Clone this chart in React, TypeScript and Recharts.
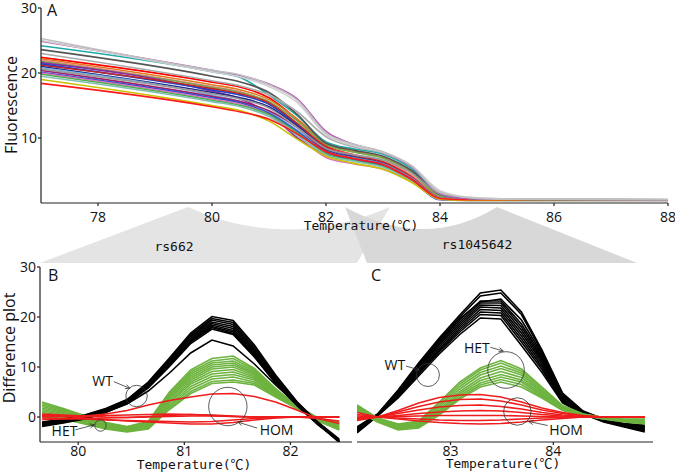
import React from 'react';
import { LineChart, Line, XAxis, YAxis, ReferenceDot } from 'recharts';

// ---- panel A: melting curves ----
const A_TEMPS = [77, 80, 80.5, 81, 81.5, 82, 82.5, 83, 83.5, 84, 84.5, 85, 86, 88];
const A_CURVES = [
  [22.4, 18.6, 17.8, 16.2, 12.8, 8.8, 7.4, 6.4, 4.2, 0.9, 0.6, 0.5, 0.5, 0.5],
  [22.2, 18.2, 17.4, 15.9, 12.9, 9.2, 7.9, 7.0, 4.8, 1.1, 0.6, 0.5, 0.5, 0.5],
  [22.0, 17.9, 17.1, 15.4, 12.2, 8.6, 7.4, 6.5, 4.3, 0.9, 0.6, 0.5, 0.5, 0.5],
  [21.8, 17.8, 17.0, 15.6, 12.6, 9.0, 7.8, 6.9, 4.7, 1.0, 0.6, 0.5, 0.5, 0.5],
  [21.6, 17.2, 16.0, 13.8, 10.0, 7.4, 6.6, 5.8, 3.8, 0.8, 0.5, 0.5, 0.5, 0.5],
  [21.4, 17.4, 16.6, 15.2, 12.0, 8.4, 7.2, 6.2, 3.8, 0.6, 0.5, 0.5, 0.5, 0.5],
  [21.2, 17.6, 16.8, 15.4, 12.2, 8.6, 7.3, 6.3, 4.0, 0.8, 0.5, 0.5, 0.5, 0.5],
  [21.0, 17.0, 16.2, 14.8, 11.8, 8.2, 7.0, 6.0, 3.6, 0.6, 0.5, 0.5, 0.5, 0.5],
  [20.8, 16.6, 15.6, 14.0, 11.2, 8.0, 6.9, 6.0, 3.8, 0.8, 0.5, 0.5, 0.5, 0.5],
  [20.4, 16.4, 15.6, 14.2, 11.6, 8.0, 6.8, 5.9, 3.7, 0.7, 0.5, 0.5, 0.5, 0.5],
  [20.1, 16.2, 15.4, 13.8, 11.0, 7.8, 6.6, 5.7, 3.4, 0.5, 0.4, 0.4, 0.4, 0.4],
  [20.0, 16.0, 15.2, 13.6, 10.4, 7.0, 6.0, 5.2, 3.3, 0.6, 0.5, 0.5, 0.6, 0.5],
  [19.8, 15.8, 15.0, 13.6, 10.8, 7.6, 6.5, 5.6, 3.5, 0.7, 0.5, 0.5, 0.5, 0.5],
  [19.5, 15.6, 14.8, 13.3, 10.4, 7.4, 6.4, 5.5, 3.4, 0.6, 0.5, 0.5, 0.5, 0.5],
  [19.0, 15.0, 14.2, 12.6, 9.8, 7.2, 6.1, 5.2, 3.2, 0.6, 0.4, 0.4, 0.4, 0.4],
  [18.4, 14.8, 14.0, 12.9, 10.6, 7.9, 6.8, 5.9, 3.6, 0.7, 0.5, 0.5, 0.5, 0.5],
  [24.2, 20.2, 19.3, 16.6, 13.4, 9.4, 8.3, 7.5, 5.3, 1.3, 0.7, 0.6, 0.6, 0.5],
  [23.6, 19.5, 18.6, 17.0, 13.6, 9.2, 8.1, 7.2, 5.0, 1.3, 0.7, 0.6, 0.5, 0.5],
  [20.6, 16.8, 16.0, 14.6, 11.6, 8.4, 7.4, 6.6, 4.6, 1.4, 0.7, 0.6, 0.5, 0.5],
  [23.0, 18.8, 18.0, 16.6, 14.0, 10.2, 8.6, 7.7, 5.6, 1.8, 0.8, 0.6, 0.6, 0.5],
  [24.9, 20.4, 19.6, 18.3, 16.0, 11.0, 9.0, 7.8, 5.6, 1.5, 0.7, 0.6, 0.6, 0.5],
  [25.0, 20.2, 19.4, 17.9, 15.4, 10.5, 8.8, 7.8, 5.8, 1.9, 0.9, 0.7, 0.6, 0.6],
  [25.3, 20.4, 19.7, 18.2, 15.8, 10.8, 9.0, 7.9, 5.7, 1.6, 0.8, 0.6, 0.6, 0.5],
];
const A_COLORS = [
  '#ff0000', '#e07b20', '#f08080', '#7aaa50', '#8a2aa0', '#2040c8', '#c02828', '#1a2a8a',
  '#7ab0e0', '#a0206a', '#3050d0', '#e070c0', '#50b050', '#80c0b0', '#c8c000', '#ff1a1a',
  '#1fa9a9', '#555555', '#999999', '#aaaaaa', '#b553b5', '#d0d0d0', '#c0c0c0',
];
const A_TICKS_X = [78, 80, 82, 84, 86, 88];
const A_TICKS_Y = [10, 20, 30];

// ---- panel B: rs662 difference plot ----
const B_TEMPS = [79.66, 79.86, 80.06, 80.26, 80.46, 80.66, 80.86, 81.06, 81.26, 81.46, 81.66, 81.86, 82.06, 82.26, 82.46];
const B_HET = [
  [3.0, 1.7, 0.3, -1.1, -1.9, -0.9, 5.0, 9.4, 11.7, 12.2, 9.7, 5.7, 2.3, -0.2, -1.0],
  [2.7, 1.5, 0.1, -1.2, -2.0, -1.0, 4.7, 9.0, 11.2, 11.7, 9.4, 5.5, 2.2, -0.3, -1.2],
  [2.4, 1.3, -0.1, -1.3, -2.1, -1.1, 4.4, 8.6, 10.8, 11.2, 9.1, 5.3, 2.2, -0.3, -1.3],
  [2.1, 1.1, -0.2, -1.4, -2.2, -1.2, 4.1, 8.2, 10.4, 10.8, 8.8, 5.2, 2.1, -0.4, -1.5],
  [1.8, 0.9, -0.4, -1.6, -2.3, -1.4, 3.8, 7.8, 10.0, 10.4, 8.6, 5.0, 2.1, -0.4, -1.6],
  [1.5, 0.7, -0.5, -1.7, -2.4, -1.5, 3.5, 7.4, 9.6, 10.0, 8.3, 4.9, 2.0, -0.5, -1.8],
  [1.2, 0.5, -0.6, -1.8, -2.5, -1.6, 3.1, 7.0, 9.1, 9.5, 8.0, 4.7, 2.0, -0.5, -1.9],
  [0.9, 0.3, -0.8, -1.9, -2.6, -1.8, 2.8, 6.6, 8.6, 9.0, 7.7, 4.6, 1.9, -0.6, -2.1],
  [0.6, 0.1, -0.9, -2.0, -2.7, -1.9, 2.4, 6.1, 8.1, 8.5, 7.4, 4.4, 1.9, -0.6, -2.2],
  [0.4, -0.1, -1.1, -2.2, -2.8, -2.1, 2.1, 5.6, 7.6, 8.0, 7.0, 4.3, 1.8, -0.7, -2.4],
  [0.2, -0.3, -1.3, -2.3, -2.9, -2.2, 1.8, 5.1, 7.1, 7.4, 6.7, 4.1, 1.8, -0.7, -2.5],
  [0.0, -0.4, -1.4, -2.4, -3.0, -2.4, 1.5, 4.7, 6.7, 7.0, 6.4, 4.0, 1.7, -0.8, -2.6],
];
const B_WT = [
  [-1.0, -0.4, 0.4, 1.7, 3.5, 7.0, 11.8, 16.8, 20.1, 19.3, 14.4, 8.4, 3.1, -1.1, -4.8],
  [-1.1, -0.5, 0.3, 1.6, 3.4, 6.8, 11.6, 16.5, 19.7, 18.9, 14.0, 8.1, 3.0, -1.2, -4.9],
  [-1.2, -0.6, 0.2, 1.5, 3.3, 6.6, 11.3, 16.2, 19.4, 18.5, 13.6, 7.9, 2.9, -1.2, -5.0],
  [-1.3, -0.7, 0.1, 1.4, 3.2, 6.5, 11.1, 16.0, 19.0, 18.1, 13.3, 7.6, 2.8, -1.3, -4.7],
  [-1.4, -0.8, 0.0, 1.3, 3.1, 6.3, 10.9, 15.7, 18.7, 17.7, 13.0, 7.4, 2.7, -1.3, -5.1],
  [-1.5, -0.9, -0.1, 1.2, 3.0, 6.2, 10.7, 15.4, 18.4, 17.3, 12.7, 7.2, 2.6, -1.4, -4.6],
  [-1.6, -1.0, -0.2, 1.1, 2.9, 6.0, 10.5, 15.2, 18.1, 17.0, 12.4, 7.0, 2.5, -1.4, -4.9],
  [-1.7, -1.1, -0.3, 1.0, 2.8, 5.9, 10.3, 15.0, 17.9, 16.7, 12.2, 6.8, 2.4, -1.5, -5.0],
  [-1.9, -1.2, -0.4, 0.9, 2.7, 5.8, 10.1, 14.7, 17.6, 16.5, 12.0, 6.7, 2.3, -1.6, -4.8],
  [-1.6, -0.9, -0.2, 1.0, 2.6, 5.2, 8.8, 12.8, 15.4, 14.2, 10.6, 6.4, 2.6, -1.0, -4.4],
];
const B_HOM = [
  [0.3, 0.2, 0.2, 0.6, 1.3, 2.4, 3.3, 4.0, 4.6, 4.7, 4.1, 3.0, 1.4, -0.3, -1.3],
  [0.6, 0.4, 0.2, 0.0, -0.1, 0.1, 0.3, 0.5, 0.4, 0.2, 0.0, 0.0, 0.0, 0.0, 0.0],
  [0.3, 0.1, -0.2, -0.5, -0.8, -1.0, -1.2, -1.4, -1.4, -1.1, -0.6, -0.2, 0.0, 0.0, 0.0],
  [-0.2, -0.3, -0.4, -0.6, -0.7, -0.8, -0.9, -1.0, -0.9, -0.6, -0.3, -0.1, 0.0, -0.3, -0.8],
  [0.1, 0.1, 0.2, 0.3, 0.4, 0.5, 0.6, 0.5, 0.3, 0.1, 0.0, 0.0, 0.0, 0.0, 0.0],
  [-0.5, -0.4, -0.3, -0.2, -0.1, 0.0, 0.1, 0.2, 0.2, 0.1, 0.0, 0.0, 0.0, 0.0, 0.0],
];
const B_TICKS_X = [80, 81, 82];
const DIFF_TICKS_Y = [0, 10, 20, 30];
// circle centres: [temperature, value]
const B_WT_MARK = [80.55, 4.2];
const B_HET_MARK = [80.21, -1.7];
const B_HOM_MARK = [81.41, 2.1];

// ---- panel C: rs1045642 difference plot ----
const C_TEMPS = [82.09, 82.29, 82.49, 82.69, 82.89, 83.09, 83.29, 83.49, 83.69, 83.89, 84.09, 84.29, 84.49, 84.69, 84.89];
const C_WT = [
  [-2.0, 0.6, 5.4, 10.8, 15.8, 20.4, 24.8, 25.4, 21.0, 13.4, 4.8, 1.2, -0.4, -1.3, -1.6],
  [-2.1, 0.5, 5.2, 10.5, 15.5, 20.0, 24.2, 24.8, 20.5, 13.0, 4.6, 1.1, -0.5, -1.4, -1.8],
  [-2.2, 0.5, 5.1, 10.4, 15.2, 19.7, 23.0, 23.6, 19.4, 12.6, 4.4, 1.0, -0.5, -1.4, -1.9],
  [-2.3, 0.5, 5.0, 10.2, 15.0, 19.4, 23.2, 23.2, 18.6, 12.2, 4.2, 1.0, -0.6, -1.5, -2.0],
  [-2.4, 0.4, 4.8, 9.9, 14.7, 19.0, 22.8, 22.8, 18.0, 11.8, 4.0, 0.9, -0.6, -1.6, -2.1],
  [-2.5, 0.4, 4.7, 9.7, 14.4, 18.6, 22.4, 22.3, 17.4, 11.4, 3.8, 0.9, -0.7, -1.6, -2.3],
  [-2.6, 0.3, 4.5, 9.4, 14.0, 18.2, 22.0, 21.8, 16.8, 11.0, 3.6, 0.8, -0.7, -1.7, -2.4],
  [-2.8, 0.3, 4.3, 9.1, 13.6, 17.8, 21.5, 21.3, 16.2, 10.5, 3.4, 0.8, -0.8, -1.8, -2.6],
  [-2.9, 0.3, 4.2, 8.9, 13.3, 17.4, 21.0, 20.8, 15.6, 10.0, 3.2, 0.7, -0.8, -1.8, -2.7],
  [-3.0, 0.2, 4.0, 8.6, 13.0, 17.0, 20.5, 20.3, 15.0, 9.5, 3.0, 0.7, -0.9, -1.9, -2.8],
  [-3.2, 0.2, 3.8, 8.2, 12.6, 16.5, 19.8, 19.6, 14.3, 8.9, 2.8, 0.6, -1.0, -2.0, -3.0],
];
const C_HET = [
  [2.4, -0.2, -1.4, -0.8, 3.0, 7.0, 9.8, 11.3, 9.6, 6.0, 2.3, 0.6, -0.1, -0.4, -0.4],
  [2.3, -0.3, -1.5, -1.0, 2.7, 6.6, 9.4, 10.8, 9.2, 5.8, 2.2, 0.6, -0.1, -0.5, -0.5],
  [2.1, -0.4, -1.7, -1.2, 2.3, 6.1, 8.9, 10.2, 8.8, 5.5, 2.0, 0.5, -0.2, -0.5, -0.6],
  [2.0, -0.5, -1.8, -1.3, 2.0, 5.6, 8.4, 9.7, 8.4, 5.2, 1.9, 0.5, -0.2, -0.6, -0.8],
  [1.8, -0.6, -2.0, -1.5, 1.6, 5.1, 7.8, 9.1, 7.9, 4.9, 1.8, 0.4, -0.2, -0.7, -0.9],
  [1.7, -0.7, -2.1, -1.7, 1.3, 4.7, 7.3, 8.5, 7.4, 4.6, 1.6, 0.4, -0.3, -0.8, -1.0],
  [1.5, -0.8, -2.3, -1.9, 1.0, 4.3, 6.8, 8.0, 7.0, 4.3, 1.5, 0.4, -0.3, -0.8, -1.1],
  [1.4, -0.9, -2.4, -2.0, 0.7, 3.9, 6.4, 7.5, 6.5, 4.0, 1.4, 0.3, -0.4, -0.9, -1.3],
  [1.2, -1.0, -2.6, -2.2, 0.4, 3.6, 6.0, 7.0, 6.0, 3.8, 1.3, 0.3, -0.4, -1.0, -1.4],
];
const C_HOM = [
  [-0.7, 0.0, 1.3, 2.8, 3.9, 4.4, 4.5, 4.0, 3.0, 1.8, 0.9, 0.3, 0.0, 0.0, 0.0],
  [-0.5, 0.0, 1.0, 2.1, 3.0, 3.5, 3.6, 3.2, 2.4, 1.4, 0.7, 0.2, 0.0, 0.0, 0.0],
  [-0.3, 0.0, 0.7, 1.4, 2.0, 2.3, 2.4, 2.1, 1.6, 0.9, 0.4, 0.1, 0.0, 0.0, 0.0],
  [-0.1, 0.0, 0.3, 0.7, 1.0, 1.2, 1.3, 1.2, 0.9, 0.5, 0.2, 0.0, 0.0, 0.0, 0.0],
  [0.2, 0.0, 0.1, 0.2, 0.3, 0.3, 0.3, 0.3, 0.2, 0.1, 0.0, 0.0, 0.0, 0.0, 0.0],
  [0.5, 0.0, -0.2, -0.4, -0.6, -0.7, -0.7, -0.6, -0.4, -0.2, -0.1, 0.0, 0.0, 0.0, 0.0],
  [0.9, 0.0, -0.4, -0.8, -1.1, -1.3, -1.4, -1.3, -1.0, -0.6, -0.3, 0.0, 0.0, 0.0, 0.0],
];
const C_TICKS_X = [83, 84];
const C_WT_MARK = [82.78, 8.4];
const C_HET_MARK = [83.54, 9.4];
const C_HOM_MARK = [83.65, 1.1];

const WT_COLOR = '#000000';
const HET_COLOR = '#6db33f';
const HOM_COLOR = '#ee1c1c';
const SANS = '"Open Sans", "Noto Sans", sans-serif';
const MONO = '"DejaVu Sans Mono", "Noto Sans CJK SC", monospace';

// rows of {t, k0, k1, ...} from a temperature list and curve lists
function buildRows(temps: number[], curves: number[][]) {
  return temps.map((t, i) => {
    const row: Record<string, number> = { t };
    curves.forEach((c, j) => { row['k' + j] = c[i]; });
    return row;
  });
}

const tickStyle = { fontSize: 14, fill: '#111', fontFamily: SANS };
const axisLine = { stroke: '#222', strokeWidth: 1.2 };

function arrowHead(x1: number, y1: number, x2: number, y2: number) {
  const a = Math.atan2(y2 - y1, x2 - x1);
  const len = 5;
  const p1 = [x2 - len * Math.cos(a - 0.45), y2 - len * Math.sin(a - 0.45)];
  const p2 = [x2 - len * Math.cos(a + 0.45), y2 - len * Math.sin(a + 0.45)];
  return `M${p1[0]},${p1[1]} L${x2},${y2} L${p2[0]},${p2[1]}`;
}

function Callout(props: any) {
  const { cx, cy, r, text, tx, ty, from, to } = props;
  const x1 = cx + from[0], y1 = cy + from[1], x2 = cx + to[0], y2 = cy + to[1];
  return (
    <g>
      <circle cx={cx} cy={cy} r={r} fill="none" stroke="#333" strokeWidth={0.8} />
      <line x1={x1} y1={y1} x2={x2} y2={y2} stroke="#333" strokeWidth={0.8} />
      <path d={arrowHead(x1, y1, x2, y2)} fill="none" stroke="#333" strokeWidth={0.8} />
      <text x={cx + tx} y={cy + ty + 5} textAnchor="middle" fontSize={14} fontFamily={SANS} fill="#111">{text}</text>
    </g>
  );
}

function mark(pos: number[], r: number, text: string, tx: number, ty: number, from: number[], to: number[]) {
  return (
    <ReferenceDot
      x={pos[0]} y={pos[1]} r={r}
      shape={(p: any) => <Callout {...p} r={r} text={text} tx={tx} ty={ty} from={from} to={to} />}
    />
  );
}

function groupLines(prefix: string, offset: number, count: number, color: string) {
  const out = [];
  for (let j = 0; j < count; j++) {
    out.push(
      <Line key={prefix + j} dataKey={'k' + (offset + j)} type="linear" stroke={color} strokeWidth={1.6}
        dot={false} activeDot={false} isAnimationActive={false} />
    );
  }
  return out;
}

const rowsA = buildRows(A_TEMPS, A_CURVES);
const rowsB = buildRows(B_TEMPS, [...B_HET, ...B_WT, ...B_HOM]);
const rowsC = buildRows(C_TEMPS, [...C_WT, ...C_HET, ...C_HOM]);

export default function App() {
  return (
    <div style={{ position: 'absolute', left: 0, top: 0, width: 675, height: 475, background: '#fff', fontFamily: SANS }}>
      <svg width={675} height={475} style={{ position: 'absolute', left: 0, top: 0 }}>
        <path d="M188,207 Q285,252 390,207 L357,263 L40,263 Z" fill="#e4e4e4" />
        <path d="M345,207 Q425,251 497,207 L637,263 L367,263 Z" fill="#d8d8d8" />
        <text x={174} y={251} textAnchor="middle" fontSize={13} fontFamily={MONO} fill="#111">rs662</text>
        <text x={477} y={249} textAnchor="middle" fontSize={13} fontFamily={MONO} fill="#111">rs1045642</text>
      </svg>

      <div style={{ position: 'absolute', left: 0, top: 0 }}>
        <LineChart width={675} height={235} data={rowsA} margin={{ top: 8, right: 7, bottom: 0, left: 0 }}>
          <XAxis dataKey="t" type="number" domain={[77, 88]} ticks={A_TICKS_X} interval={0} allowDataOverflow
            height={32} tick={tickStyle} tickSize={3} tickMargin={6} axisLine={axisLine} tickLine={axisLine} />
          <YAxis type="number" domain={[0, 30]} ticks={A_TICKS_Y} interval={0} allowDataOverflow
            width={41} tick={tickStyle} tickSize={3} tickMargin={1} axisLine={axisLine} tickLine={axisLine} />
          {A_CURVES.map((_, j) => (
            <Line key={'a' + j} dataKey={'k' + j} type="monotone" stroke={A_COLORS[j]} strokeWidth={1.6}
              dot={false} activeDot={false} isAnimationActive={false} />
          ))}
        </LineChart>
      </div>

      <div style={{ position: 'absolute', left: 0, top: 260 }}>
        <LineChart width={360} height={215} data={rowsB} margin={{ top: 7, right: 8, bottom: 0, left: 0 }}>
          <XAxis dataKey="t" type="number" domain={[79.64, 82.58]} ticks={B_TICKS_X} interval={0} allowDataOverflow
            height={33} tick={tickStyle} tickSize={3} tickMargin={1} axisLine={axisLine} tickLine={axisLine} />
          <YAxis type="number" domain={[-5, 30]} ticks={DIFF_TICKS_Y} interval={0} allowDataOverflow
            width={40} tick={tickStyle} tickSize={3} tickMargin={1} axisLine={axisLine} tickLine={axisLine} />
          {groupLines('bg', 0, B_HET.length, HET_COLOR)}
          {groupLines('bk', B_HET.length, B_WT.length, WT_COLOR)}
          {groupLines('br', B_HET.length + B_WT.length, B_HOM.length, HOM_COLOR)}
          {mark(B_WT_MARK, 10.7, 'WT', -34, -15.5, [-22.7, -14.3], [-6.7, -7.7])}
          {mark(B_HET_MARK, 5.7, 'HET', -36, 5.3, [-25, 4.3], [-6.2, -0.7])}
          {mark(B_HOM_MARK, 19.2, 'HOM', 48.7, 23.8, [29.4, 21.6], [10, 15.6])}
        </LineChart>
      </div>

      <div style={{ position: 'absolute', left: 350, top: 260 }}>
        <LineChart width={315} height={215} data={rowsC} margin={{ top: 7, right: 12, bottom: 0, left: 7 }}>
          <XAxis dataKey="t" type="number" domain={[82.09, 84.97]} ticks={C_TICKS_X} interval={0} allowDataOverflow
            height={33} tick={tickStyle} tickSize={3} tickMargin={1} axisLine={axisLine} tickLine={axisLine} />
          <YAxis type="number" domain={[-5, 30]} hide allowDataOverflow width={0} />
          {groupLines('ck', 0, C_WT.length, WT_COLOR)}
          {groupLines('cg', C_WT.length, C_HET.length, HET_COLOR)}
          {groupLines('cr', C_WT.length + C_HET.length, C_HOM.length, HOM_COLOR)}
          {mark(C_WT_MARK, 11.5, 'WT', -33, -10.3, [-22, -9], [-8.6, -5])}
          {mark(C_HET_MARK, 18.3, 'HET', -29.2, -22, [-15.7, -22.7], [-2.7, -19])}
          {mark(C_HOM_MARK, 13.7, 'HOM', 48.7, 18, [30.4, 14], [11.4, 10])}
        </LineChart>
      </div>

      <svg width={675} height={475} style={{ position: 'absolute', left: 0, top: 0, pointerEvents: 'none' }}>
        <text x={47} y={16} fontSize={16} fontFamily={SANS} fill="#111">A</text>
        <text x={48} y={281} fontSize={16} fontFamily={SANS} fill="#111">B</text>
        <text x={371} y={281} fontSize={16} fontFamily={SANS} fill="#111">C</text>
        <text x={17} y={105} transform="rotate(-90 17 105)" textAnchor="middle" fontSize={16} fontFamily={SANS} fill="#111">Fluorescence</text>
        <text x={15} y={348} transform="rotate(-90 15 348)" textAnchor="middle" fontSize={16} fontFamily={SANS} fill="#111">Difference plot</text>
        <text x={361} y={230} textAnchor="middle" fontSize={13} fontFamily={MONO} fill="#111">Temperature(℃)</text>
        <text x={194} y={469} textAnchor="middle" fontSize={13} fontFamily={MONO} fill="#111">Temperature(℃)</text>
        <text x={503} y={468} textAnchor="middle" fontSize={13} fontFamily={MONO} fill="#111">Temperature(℃)</text>
      </svg>
    </div>
  );
}
